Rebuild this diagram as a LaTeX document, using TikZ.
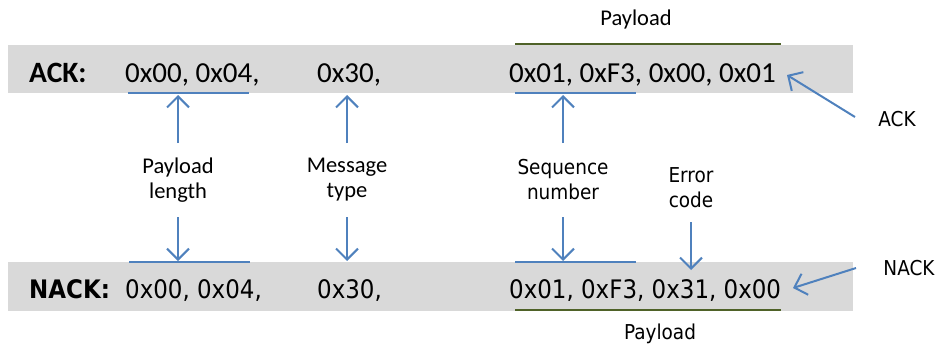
\documentclass[tikz,border=0pt]{standalone}
\usepackage{fontspec}
\usepackage{tikz}
\usetikzlibrary{arrows.meta}
\newfontfamily\calfont{Carlito}
\newfontfamily\tahfont[FakeStretch=0.9]{DejaVu Sans}
\definecolor{bar}{RGB}{217,217,217}
\definecolor{arr}{RGB}{79,129,189}
\definecolor{pay}{RGB}{79,98,40}

\begin{document}
\begin{tikzpicture}[x=1pt,y=-1pt,
    every node/.style={inner sep=0pt},
    ackrow/.style={anchor=base west,font=\calfont\fontsize{29}{31}\selectfont},
    nackrow/.style={anchor=base west,font=\tahfont\fontsize{25.5}{28}\selectfont},
    lblc/.style={align=center,font=\calfont\fontsize{22.5}{25}\selectfont},
    lblt/.style={align=center,font=\tahfont\fontsize{20.5}{25}\selectfont},
    mark line/.style={arr,line width=2pt},
    pay line/.style={pay,line width=2pt},
    ptr/.style={arr,line width=2pt,-{Straight Barb[length=11pt,width=22pt,line width=2pt]}}]
  \useasboundingbox (0,0) rectangle (937,345);
  \fill[bar] (8,45) rectangle (853,93);
  \fill[bar] (8,262) rectangle (853,311);

  % ACK frame
  \node[ackrow,font=\calfont\bfseries\fontsize{29.5}{31}\selectfont] (ackname) at (29,82) {ACK:};
  \node[ackrow] (acklen) at (125,82) {0x00, 0x04,};
  \node[ackrow] (acktype) at (317,82) {0x30,};
  \node[ackrow] (ackpay) at (509,82) {0x01, 0xF3, 0x00, 0x01};

  % NACK frame
  \node[nackrow,font=\tahfont\bfseries\fontsize{25.5}{28}\selectfont] (nackname) at (29,298) {NACK:};
  \node[nackrow] (nacklen) at (125,298) {0x00, 0x04,};
  \node[nackrow] (nacktype) at (317,298) {0x30,};
  \node[nackrow] (nackpay) at (509,298) {0x01, 0xF3, 0x31, 0x00};

  % field marks
  \draw[mark line] (128,93) -- (249,93);
  \draw[mark line] (515,93) -- (636,93);
  \draw[mark line] (129,262) -- (250,262);
  \draw[mark line] (515,262) -- (636,262);
  \draw[pay line] (515,44) -- (781,44);
  \draw[pay line] (515,310) -- (781,310);
  \node[lblc] (paytop) at (636,20) {Payload};
  \node[lblt] (paybot) at (660,334) {Payload};

  % field labels
  \node[lblc] (plen) at (178,180) {Payload\\length};
  \node[lblc] (mtype) at (347,180) {Message\\type};
  \node[lblt] (seqno) at (563,180) {Sequence\\number};
  \node[lblt] (errc) at (691,188) {Error\\code};

  \coordinate (plenup) at (178,143);  \coordinate (plendn) at (178,217);
  \coordinate (mtypeup) at (347,143); \coordinate (mtypedn) at (347,217);
  \coordinate (seqnoup) at (563,143); \coordinate (seqnodn) at (563,217);
  \coordinate (errcdn) at (691,222);

  \draw[ptr] (plenup) -- (178,95);
  \draw[ptr] (plendn) -- (178,261);
  \draw[ptr] (mtypeup) -- (347,95);
  \draw[ptr] (mtypedn) -- (347,261);
  \draw[ptr] (seqnoup) -- (563,95);
  \draw[ptr] (seqnodn) -- (563,261);
  \draw[ptr] (errcdn) -- (691,270);

  % frame names
  \node[lblt] (ackout) at (897,119) {ACK};
  \node[lblt] (nackout) at (909,268) {NACK};
  \coordinate (acktail) at (855,117);
  \coordinate (nacktail) at (856,268);
  \draw[ptr] (acktail) -- (787,75);
  \draw[ptr] (nacktail) -- (793,288);
\end{tikzpicture}
\end{document}
